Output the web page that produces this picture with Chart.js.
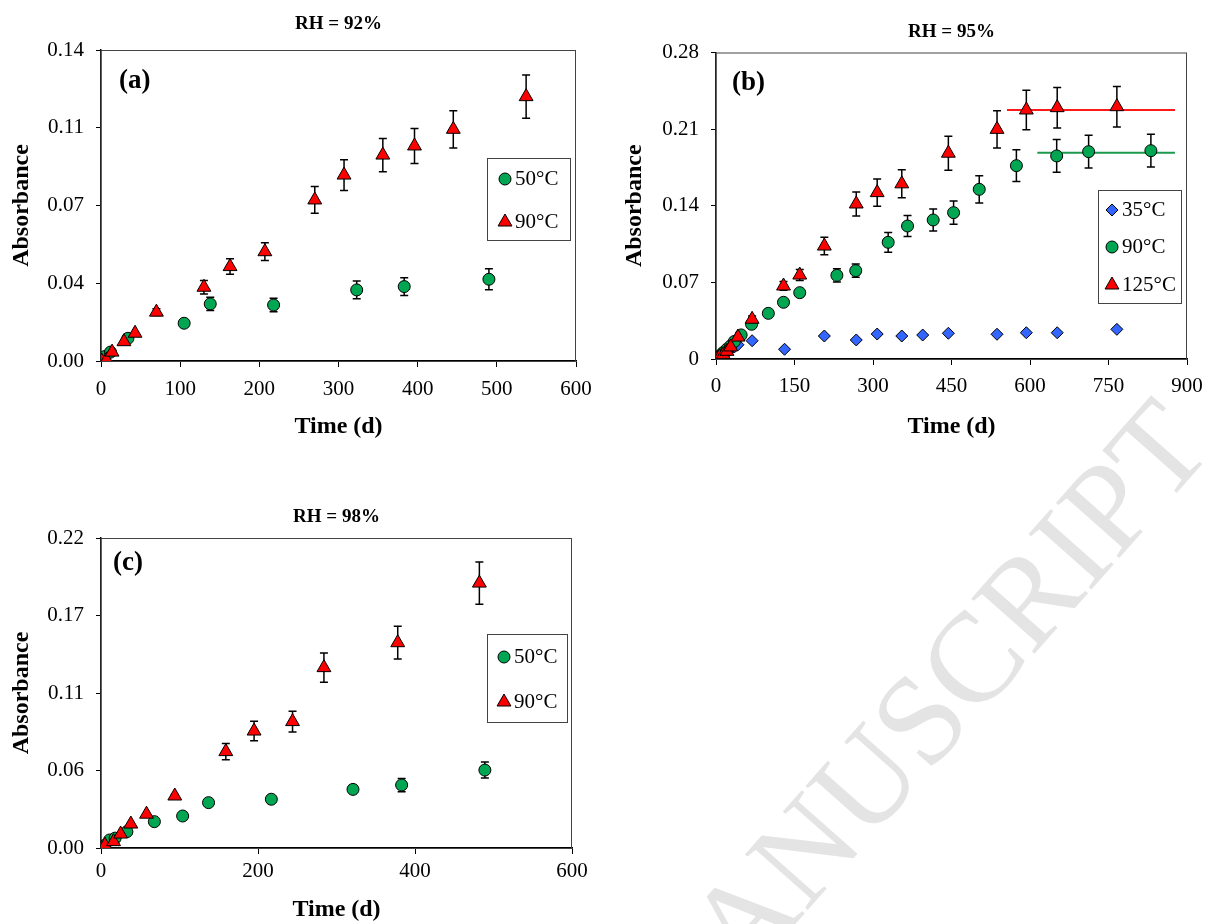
<!DOCTYPE html>
<html>
<head>
<meta charset="utf-8">
<script src="https://cdn.jsdelivr.net/npm/chart.js@4.4.0/dist/chart.umd.min.js"></script>
<style>
  html, body { margin: 0; padding: 0; background: #fff; }
  body { width: 1206px; height: 924px; overflow: hidden; position: relative; }
  canvas { position: absolute; z-index: 1; }
  #stamp {
    position: absolute; left: 177px; top: 1494px; z-index: 0;
    font: 128px 'Liberation Serif'; line-height: 128px; color: #e4e4e4;
    white-space: nowrap; transform-origin: 0 64px; transform: rotate(-48.5deg);
  }
</style>
</head>
<body>
<div id="stamp">ACCEPTED MANUSCRIPT</div>
<canvas id="chartA" width="600" height="460" style="left:0;top:0"></canvas>
<canvas id="chartB" width="606" height="460" style="left:600px;top:0"></canvas>
<canvas id="chartC" width="600" height="454" style="left:0;top:470px"></canvas>
<script>
// ---- data ----
// (a) RH = 92%
const a50Time = [0, 5, 12, 34, 105, 138, 218, 323, 383, 490];
const a50Abs  = [0, 0.002, 0.004, 0.0102, 0.017, 0.0257, 0.0252, 0.032, 0.0335, 0.0368];
const a50Err  = [0, 0, 0, 0, 0, 0.003, 0.003, 0.004, 0.004, 0.0047];
const a90Time = [1, 7, 14, 29, 43, 70, 130, 163, 207, 270, 307, 356, 396, 445, 537];
const a90Abs  = [0, 0.0005, 0.004, 0.0087, 0.0125, 0.022, 0.0332, 0.0425, 0.0492, 0.0725, 0.0837, 0.0927, 0.0968, 0.1043, 0.119];
const a90Err  = [0, 0, 0, 0, 0, 0.0015, 0.003, 0.0035, 0.004, 0.006, 0.0069, 0.0075, 0.0079, 0.0084, 0.0097];

// (b) RH = 95%
const b35Time  = [0, 7, 14, 21, 28, 35, 42, 69, 131, 207, 268, 308, 355, 395, 444, 537, 593, 652, 766];
const b35Abs   = [0, 0.002, 0.004, 0.006, 0.009, 0.011, 0.013, 0.0167, 0.0089, 0.021, 0.0174, 0.0228, 0.021, 0.0219, 0.0235, 0.0226, 0.024, 0.024, 0.0271];
const b90Time  = [0, 7, 14, 21, 28, 35, 48, 68, 100, 129, 160, 231, 267, 329, 366, 415, 454, 503, 574, 651, 712, 831];
const b90Abs   = [0, 0.003, 0.006, 0.009, 0.012, 0.016, 0.022, 0.0317, 0.0417, 0.0518, 0.0606, 0.0764, 0.0807, 0.1066, 0.1215, 0.127, 0.1337, 0.155, 0.1766, 0.1855, 0.1894, 0.1903];
const b90Err   = [0, 0, 0, 0, 0, 0, 0, 0.002, 0, 0.002, 0.003, 0.006, 0.006, 0.009, 0.0096, 0.01, 0.0107, 0.0125, 0.0145, 0.015, 0.015, 0.015];
const b125Time = [0, 7, 14, 21, 28, 42, 69, 129, 160, 207, 268, 308, 355, 444, 537, 593, 652, 766];
const b125Abs  = [0, 0.002, 0.004, 0.007, 0.011, 0.02, 0.0363, 0.0667, 0.0767, 0.1032, 0.1416, 0.152, 0.16, 0.188, 0.2098, 0.2275, 0.2296, 0.2305];
const b125Err  = [0, 0, 0, 0, 0, 0, 0.003, 0.004, 0.005, 0.008, 0.011, 0.0125, 0.0128, 0.0155, 0.017, 0.018, 0.0185, 0.0185];
// plateau lines
const plat125Time = [556, 877];
const plat125Abs  = [0.2275, 0.2275];
const plat90Time  = [614, 877];
const plat90Abs   = [0.1885, 0.1885];

// (c) RH = 98%
const c50Time = [0, 5, 11, 18, 33, 68, 104, 137, 217, 321, 383, 489];
const c50Abs  = [0, 0.002, 0.0057, 0.007, 0.0116, 0.0187, 0.0227, 0.0322, 0.0346, 0.0416, 0.0447, 0.0553];
const c50Err  = [0, 0, 0, 0, 0, 0, 0, 0, 0.001, 0.003, 0.0047, 0.0057];
const c90Time = [0, 5, 16, 25, 38, 58, 94, 159, 195, 244, 284, 378, 482];
const c90Abs  = [0, 0.002, 0.0045, 0.0099, 0.017, 0.024, 0.0369, 0.0684, 0.083, 0.0897, 0.128, 0.1457, 0.188];
const c90Err  = [0, 0, 0, 0, 0, 0, 0.001, 0.0058, 0.0069, 0.0073, 0.0103, 0.0116, 0.015];

// ticks
const aXTicks = [0, 100, 200, 300, 400, 500, 600];
const aYTicks = [0, 0.035, 0.07, 0.105, 0.14];
const aYLabels = ['0.00', '0.04', '0.07', '0.11', '0.14'];
const bXTicks = [0, 150, 300, 450, 600, 750, 900];
const bYTicks = [0, 0.07, 0.14, 0.21, 0.28];
const bYLabels = ['0', '0.07', '0.14', '0.21', '0.28'];
const cXTicks = [0, 200, 400, 600];
const cYTicks = [0, 0.055, 0.11, 0.165, 0.22];
const cYLabels = ['0.00', '0.06', '0.11', '0.17', '0.22'];

const GREEN = '#00a651', RED = '#ff0000', BLUE = '#3366ff';
const SERIF = "'Liberation Serif', 'Times New Roman', serif";

function pts(xs, ys) { return xs.map((x, i) => ({ x: x, y: ys[i] })); }

function series(label, xs, ys, errs, style, color) {
  return {
    label: label, data: pts(xs, ys), errors: errs,
    pointStyle: style, pointRadius: style === 'triangle' ? 8 : 6,
    backgroundColor: color, borderColor: '#000', pointBorderWidth: 1, borderWidth: 1,
    order: style === 'triangle' ? 0 : (style === 'circle' ? 1 : 2)
  };
}

function flatLine(xs, ys, color) {
  return { label: '', data: pts(xs, ys), showLine: true, pointRadius: 0,
           borderColor: color, borderWidth: 2, order: 3 };
}

// error bars drawn under the markers
const errorBars = {
  id: 'errorBars',
  beforeDatasetsDraw(chart) {
    const { ctx, scales: { x, y } } = chart;
    ctx.save();
    ctx.strokeStyle = '#000';
    ctx.lineWidth = 1.5;
    chart.data.datasets.forEach(ds => {
      if (!ds.errors) return;
      ds.data.forEach((p, i) => {
        const e = ds.errors[i];
        if (!e) return;
        const px = x.getPixelForValue(p.x);
        const top = y.getPixelForValue(p.y + e);
        const bot = y.getPixelForValue(p.y - e);
        ctx.beginPath();
        ctx.moveTo(px, top); ctx.lineTo(px, bot);
        ctx.moveTo(px - 4, top); ctx.lineTo(px + 4, top);
        ctx.moveTo(px - 4, bot); ctx.lineTo(px + 4, bot);
        ctx.stroke();
      });
    });
    ctx.restore();
  }
};

// plot-area box
const frame = {
  id: 'frame',
  beforeDatasetsDraw(chart) {
    const { ctx, chartArea: a } = chart;
    ctx.save();
    ctx.strokeStyle = '#444';
    ctx.lineWidth = 1;
    ctx.strokeRect(a.left, a.top + 0.5, a.right - a.left - 0.5, a.bottom - a.top);
    ctx.restore();
  }
};

// boxed legend inside the plot
const boxLegend = {
  id: 'boxLegend',
  afterDraw(chart, args, o) {
    const ctx = chart.ctx;
    ctx.save();
    ctx.fillStyle = '#fff';
    ctx.fillRect(o.x, o.y, o.w, o.h);
    ctx.strokeStyle = '#444';
    ctx.lineWidth = 1;
    ctx.strokeRect(o.x + 0.5, o.y + 0.5, o.w, o.h);
    ctx.font = '21px ' + SERIF;
    ctx.textBaseline = 'middle';
    o.items.forEach((idx, k) => {
      const ds = chart.data.datasets[idx];
      const cy = o.y + o.rows[k];
      ctx.fillStyle = ds.backgroundColor;
      ctx.strokeStyle = '#000';
      ctx.lineWidth = 1;
      Chart.helpers.drawPoint(ctx, { pointStyle: ds.pointStyle, radius: ds.pointRadius, rotation: 0, borderWidth: 1 }, o.x + o.mx, cy);
      ctx.fillStyle = '#000';
      ctx.fillText(ds.label, o.x + o.tx, cy);
    });
    ctx.restore();
  }
};

// (a), (b), (c)
const panelTag = {
  id: 'panelTag',
  afterDraw(chart, args, o) {
    const { ctx, chartArea: a } = chart;
    ctx.save();
    ctx.font = 'bold 27px ' + SERIF;
    ctx.fillStyle = '#000';
    ctx.textBaseline = 'middle';
    ctx.fillText(o.text, a.left + o.dx, a.top + o.dy);
    ctx.restore();
  }
};

function panel(id, p) {
  return new Chart(document.getElementById(id), {
    type: 'scatter',
    data: { datasets: p.datasets },
    options: {
      responsive: false, animation: false, devicePixelRatio: 1,
      layout: { padding: { left: 0, top: 0, right: p.padRight, bottom: 0 } },
      plugins: {
        legend: { display: false },
        tooltip: { enabled: false },
        title: { display: true, text: p.title, fullSize: false, color: '#000',
                 font: { family: SERIF, size: 19, weight: 'bold' }, padding: p.titlePad },
        boxLegend: p.legend,
        panelTag: p.tag
      },
      scales: {
        x: {
          type: 'linear', min: 0, max: p.xTicks[p.xTicks.length - 1],
          afterBuildTicks: s => { s.ticks = p.xTicks.map(v => ({ value: v })); },
          ticks: { color: '#000', font: { family: SERIF, size: 21 }, padding: p.xTickPad, maxRotation: 0 },
          grid: { drawOnChartArea: false, drawTicks: true, tickLength: 6, color: '#000', lineWidth: 1 },
          border: { color: '#000', width: 1.5 },
          title: { display: true, text: 'Time (d)', color: '#000',
                   font: { family: SERIF, size: 24, weight: 'bold' }, padding: { top: 0, bottom: p.xTitlePad } },
          afterFit: s => { s.height = p.xHeight; s.paddingLeft = 0; s.paddingRight = 0; }
        },
        y: {
          type: 'linear', min: 0, max: p.yTicks[p.yTicks.length - 1],
          afterBuildTicks: s => { s.ticks = p.yTicks.map(v => ({ value: v })); },
          ticks: { color: '#000', font: { family: SERIF, size: 21 }, padding: 12,
                   callback: (v, i) => p.yLabels[i] },
          grid: { drawOnChartArea: false, drawTicks: true, tickLength: 5, color: '#000', lineWidth: 1 },
          border: { color: '#000', width: 1.5 },
          title: { display: true, text: 'Absorbance', color: '#000',
                   font: { family: SERIF, size: 24, weight: 'bold' }, padding: { top: p.yTitlePad, bottom: 0 } },
          afterFit: s => { s.width = p.yWidth; }
        }
      }
    },
    plugins: [frame, errorBars, boxLegend, panelTag]
  });
}

panel('chartA', {
  title: 'RH = 92%',
  datasets: [
    series('50°C', a50Time, a50Abs, a50Err, 'circle', GREEN),
    series('90°C', a90Time, a90Abs, a90Err, 'triangle', RED)
  ],
  xTicks: aXTicks, yTicks: aYTicks, yLabels: aYLabels,
  padRight: 24, yWidth: 101, xHeight: 99, xTickPad: 10, xTitlePad: 19, yTitlePad: 7.6,
  titlePad: { top: 12.6, bottom: 14.6 },
  legend: { x: 487, y: 158, w: 83, h: 82, items: [0, 1], rows: [21, 64], mx: 18, tx: 28 },
  tag: { text: '(a)', dx: 18, dy: 31 }
});

panel('chartB', {
  title: 'RH = 95%',
  datasets: [
    series('35°C', b35Time, b35Abs, null, 'rectRot', BLUE),
    series('90°C', b90Time, b90Abs, b90Err, 'circle', GREEN),
    series('125°C', b125Time, b125Abs, b125Err, 'triangle', RED),
    flatLine(plat125Time, plat125Abs, '#ff1a1a'),
    flatLine(plat90Time, plat90Abs, '#1b9a4b')
  ],
  xTicks: bXTicks, yTicks: bYTicks, yLabels: bYLabels,
  padRight: 19, yWidth: 116, xHeight: 101, xTickPad: 9, xTitlePad: 19, yTitlePad: 20.6,
  titlePad: { top: 20.6, bottom: 9.1 },
  legend: { x: 498, y: 190, w: 83, h: 113, items: [0, 1, 2], rows: [20, 57, 95], mx: 14, tx: 24 },
  tag: { text: '(b)', dx: 16, dy: 31 }
});

panel('chartC', {
  title: 'RH = 98%',
  datasets: [
    series('50°C', c50Time, c50Abs, c50Err, 'circle', GREEN),
    series('90°C', c90Time, c90Abs, c90Err, 'triangle', RED)
  ],
  xTicks: cXTicks, yTicks: cYTicks, yLabels: cYLabels,
  padRight: 28, yWidth: 101, xHeight: 76, xTickPad: 5, xTitlePad: 0, yTitlePad: 7.6,
  titlePad: { top: 35.6, bottom: 9.6 },
  legend: { x: 487, y: 164, w: 80, h: 88, items: [0, 1], rows: [23, 68], mx: 17, tx: 27 },
  tag: { text: '(c)', dx: 12, dy: 25 }
});
</script>
</body>
</html>
